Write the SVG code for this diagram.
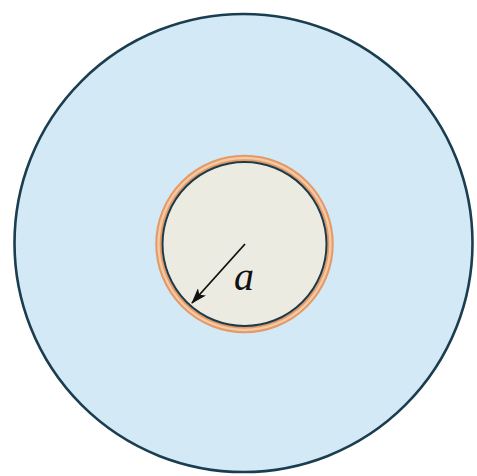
<svg xmlns="http://www.w3.org/2000/svg" width="477" height="476" viewBox="0 0 477 476">
<defs>
<marker id="ah" markerWidth="16" markerHeight="11" refX="15" refY="5.5" orient="auto" markerUnits="userSpaceOnUse" viewBox="0 0 16 11"><path d="M0,0 L16,5.5 L0,11 L4,5.5 Z" fill="#111"/></marker>
</defs>
<rect width="477" height="476" fill="#fff"/>
<g id="outer"><circle cx="243.5" cy="243" r="229" fill="#d3e9f6" stroke="#1b3d50" stroke-width="2.6"/></g>
<g id="inner">
<circle cx="244.5" cy="244" r="86" fill="#ecebe2" stroke="#e39a68" stroke-width="6.5"/>
<circle cx="244.5" cy="244" r="86" fill="none" stroke="#f4c9a3" stroke-width="2.4"/>
<circle cx="244.5" cy="244" r="82" fill="none" stroke="#1f3a47" stroke-width="2"/>
</g>
<g id="connectors"><line x1="245" y1="244" x2="192" y2="303" stroke="#111" stroke-width="1.8" marker-end="url(#ah)"/></g>
<text x="234" y="290" font-family="Liberation Serif, serif" font-style="italic" font-size="40" fill="#111">a</text>
</svg>
